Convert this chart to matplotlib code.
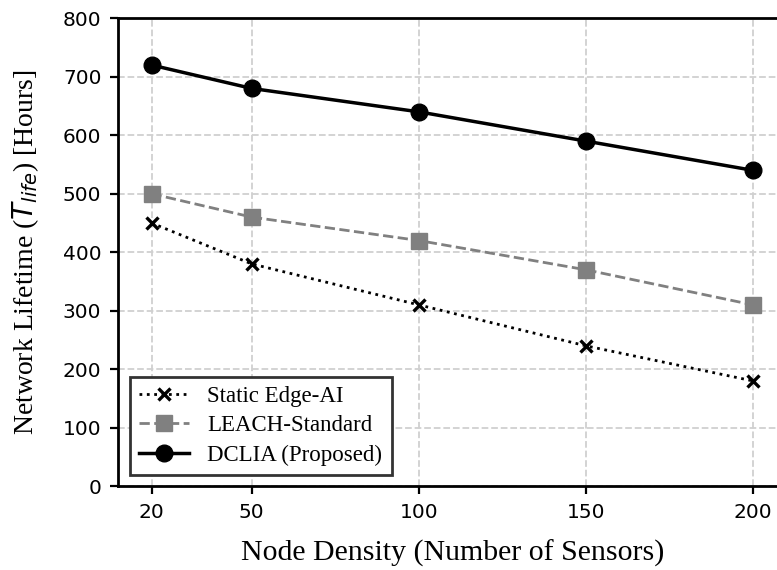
import numpy as np
import matplotlib
matplotlib.use("Agg")
import matplotlib.pyplot as plt

# Data
node_density = [20, 50, 100, 150, 200]
static_edge_ai = [450, 380, 310, 240, 180]
leach_standard = [500, 460, 420, 370, 310]
dclia_proposed = [720, 680, 640, 590, 540]

plt.rcParams['font.family'] = 'serif'
plt.rcParams['font.serif'] = ['Liberation Serif', 'DejaVu Serif']
plt.rcParams['mathtext.fontset'] = 'dejavusans'

fig = plt.figure(figsize=(7.77, 5.70), dpi=100)
ax = fig.add_axes([0.152, 0.147, 0.860, 0.821])

ax.plot(node_density, static_edge_ai, color='black', linestyle=':', linewidth=2,
        marker='x', markersize=9, markeredgewidth=2.4, label='Static Edge-AI')
ax.plot(node_density, leach_standard, color='#808080', linestyle='--', linewidth=2,
        marker='s', markersize=11, label='LEACH-Standard')
ax.plot(node_density, dclia_proposed, color='black', linestyle='-', linewidth=2.5,
        marker='o', markersize=12, label='DCLIA (Proposed)')

ax.set_xlim(10, 210)
ax.set_ylim(0, 800)
ax.set_xticks(node_density)
ax.set_yticks(np.arange(0, 801, 100))

ax.tick_params(direction='out', length=6, width=1.6, pad=6,
               labelsize=14.5, labelfontfamily='DejaVu Sans')
for sp in ax.spines.values():
    sp.set_linewidth(2)

ax.grid(True, color='#d0d0d0', linestyle='--', linewidth=1.3)
ax.set_axisbelow(True)

ax.set_xlabel('Node Density (Number of Sensors)', fontsize=21.5, labelpad=13)
ax.set_ylabel(r'Network Lifetime ($T_{life}$) [Hours]', fontsize=20, labelpad=16)

leg = ax.legend(loc='lower left', fontsize=16.5, fancybox=False, framealpha=1,
                edgecolor='#333333', borderpad=0.4, handlelength=2.2,
                labelspacing=0.35)
leg.get_frame().set_linewidth(2)

fig.savefig('out.png', dpi=100)
